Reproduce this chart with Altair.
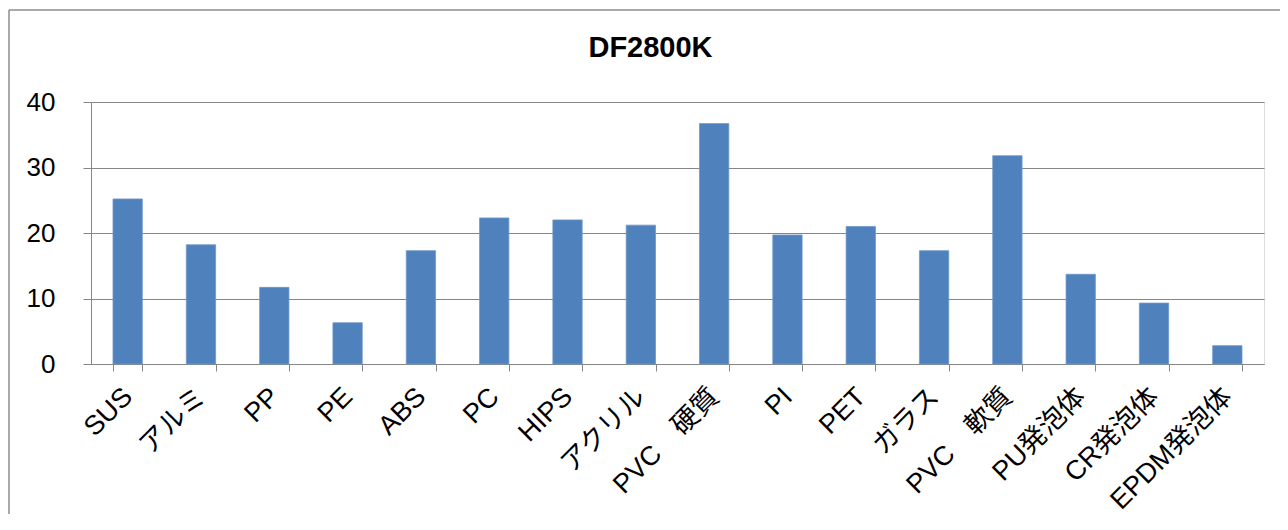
import altair as alt
import pandas as pd

categories = ["SUS", "アルミ", "PP", "PE", "ABS", "PC", "HIPS", "アクリル",
              "PVC　硬質", "PI", "PET", "ガラス", "PVC　軟質", "PU発泡体",
              "CR発泡体", "EPDM発泡体"]
values = [25.2, 18.2, 11.7, 6.3, 17.3, 22.3, 22.0, 21.2,
          36.7, 19.7, 21.0, 17.3, 31.8, 13.7, 9.3, 2.8]
y_ticks = [0, 10, 20, 30, 40]
title_text = "DF2800K"

df = pd.DataFrame({"material": categories, "value": values})
FONT = "Liberation Sans, Noto Sans CJK JP, sans-serif"
GRID = "#868686"

bars = alt.Chart(df).mark_bar(color="#4F81BD", stroke="#6F98CC", strokeWidth=0.8).encode(
    x=alt.X("material:N", sort=categories,
            scale=alt.Scale(paddingInner=0.6, paddingOuter=0.3),
            axis=alt.Axis(title=None, labelAngle=-45, labelFontSize=27,
                          labelFont=FONT, labelColor="#000000",
                          tickBand="extent", tickSize=7, tickColor=GRID,
                          domainColor=GRID, labelPadding=12, labelOffset=-9,
                          grid=False)),
    y=alt.Y("value:Q", scale=alt.Scale(domain=[0, 40], nice=False),
            axis=alt.Axis(title=None, values=y_ticks, labelFontSize=26,
                          labelFont=FONT, labelColor="#000000",
                          tickSize=8, tickColor=GRID, domainColor=GRID,
                          gridColor=GRID, gridWidth=1.2, labelPadding=28)),
)

frame = pd.DataFrame({"k": [0]})
top_line = alt.Chart(frame).mark_rule(color="#8c8c8c", strokeWidth=1.5).encode(
    x=alt.value(-82), x2=alt.value(1300), y=alt.value(-92))
left_line = alt.Chart(frame).mark_rule(color="#8c8c8c", strokeWidth=1.5).encode(
    x=alt.value(-82), y=alt.value(-92), y2=alt.value(600))

chart = alt.layer(top_line, left_line, bars).properties(
    width=1173, height=262,
    title=alt.TitleParams(title_text, font=FONT, fontSize=29, fontWeight="bold",
                          color="#000000", anchor="middle", frame="group",
                          dx=-27, offset=-54),
    autosize=alt.AutoSizeParams(type="none"),
    padding={"left": 83, "top": 94, "right": 16, "bottom": 150},
).configure_view(stroke=None).configure(background="white")

chart.save("out.html", embed_options={"renderer": "svg", "actions": False})
